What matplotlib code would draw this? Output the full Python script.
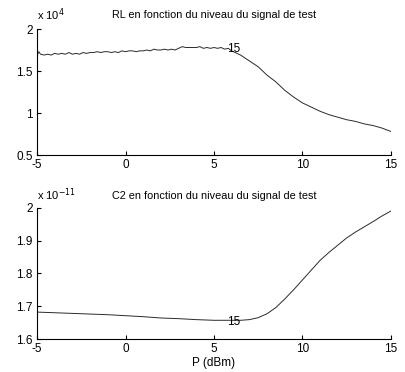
import numpy as np
from matplotlib import pyplot as plt

# RL (x 1e4) vs P (dBm)
rl_x = [-5.0, -4.9, -4.8, -4.6, -4.4, -4.2, -4.0, -3.8, -3.6, -3.4, -3.2, -3.0,
        -2.8, -2.6, -2.4, -2.2, -2.0, -1.8, -1.6, -1.4, -1.2, -1.0, -0.8, -0.6,
        -0.4, -0.2, 0.0, 0.2, 0.4, 0.6, 0.8, 1.0, 1.2, 1.4, 1.6, 1.8, 2.0, 2.2,
        2.4, 2.6, 2.8, 3.0, 3.2, 3.4, 3.6, 3.8, 4.0, 4.2, 4.4, 4.6, 4.8, 5.0,
        5.2, 5.4, 5.6, 5.8, 6.0, 6.5, 7.0, 7.5, 8.0, 8.5, 9.0, 9.5, 10.0, 10.5,
        11.0, 11.5, 12.0, 12.5, 13.0, 13.5, 14.0, 14.5, 15.0]
rl_y = [1.68, 1.73, 1.70, 1.69, 1.70, 1.69, 1.71, 1.70, 1.71, 1.70, 1.72, 1.70,
        1.71, 1.70, 1.72, 1.71, 1.72, 1.72, 1.73, 1.72, 1.73, 1.73, 1.72, 1.73,
        1.72, 1.74, 1.73, 1.74, 1.74, 1.73, 1.74, 1.74, 1.75, 1.74, 1.76, 1.75,
        1.75, 1.76, 1.75, 1.76, 1.75, 1.77, 1.79, 1.78, 1.78, 1.78, 1.78, 1.79,
        1.77, 1.78, 1.77, 1.78, 1.77, 1.78, 1.76, 1.77, 1.74, 1.69, 1.62, 1.55,
        1.45, 1.37, 1.27, 1.19, 1.12, 1.07, 1.02, 0.98, 0.95, 0.92, 0.90, 0.87,
        0.85, 0.82, 0.78]

# C2 (x 1e-11) vs P (dBm)
c2_x = [-5, -4, -3, -2, -1, 0, 1, 1.5, 2, 3, 4, 5, 6, 6.5, 7, 7.5, 8, 8.5, 9,
        9.5, 10, 10.5, 11, 11.5, 12, 12.5, 13, 13.5, 14, 14.5, 15]
c2_y = [1.682, 1.680, 1.678, 1.676, 1.674, 1.671, 1.668, 1.666, 1.664, 1.662,
        1.659, 1.657, 1.657, 1.657, 1.659, 1.665, 1.677, 1.696, 1.722, 1.750,
        1.780, 1.810, 1.840, 1.864, 1.886, 1.908, 1.926, 1.942, 1.958, 1.975,
        1.990]

xticks = [-5, 0, 5, 10, 15]
rl_ticks = [0.5, 1, 1.5, 2]
c2_ticks = [1.6, 1.7, 1.8, 1.9, 2]

plt.rcParams['font.family'] = ['Liberation Sans', 'DejaVu Sans']
plt.rcParams['font.size'] = 8.5

fig = plt.figure(figsize=(4.05, 3.72), dpi=100)
ax1 = fig.add_axes([0.0914, 0.5833, 0.874, 0.3387])
ax2 = fig.add_axes([0.0914, 0.0887, 0.874, 0.353])

line_color = '#2a2a2a'


def style(ax):
    for s in ('top', 'right'):
        ax.spines[s].set_visible(False)
    for s in ('left', 'bottom'):
        ax.spines[s].set_linewidth(0.8)
    ax.tick_params(direction='in', length=3, width=0.8, pad=3, labelsize=8.5)
    ax.set_xlim(-5, 15)
    ax.set_xticks(xticks)
    ax.set_xticklabels([str(t) for t in xticks])


ax1.plot(rl_x, rl_y, color=line_color, lw=0.7)
ax1.set_ylim(0.5, 2)
ax1.set_yticks(rl_ticks)
ax1.set_yticklabels(['0.5', '1', '1.5', '2'])
style(ax1)
ax1.set_title('RL en fonction du niveau du signal de test', fontsize=7.8, pad=8)
ax1.text(0, 1.045, r'x 10$^{4}$', transform=ax1.transAxes, fontsize=8,
         ha='left', va='bottom')
ax1.text(5.75, 1.765, '15', fontsize=8.5, ha='left', va='center')

ax2.plot(c2_x, c2_y, color=line_color, lw=0.7)
ax2.set_ylim(1.6, 2)
ax2.set_yticks(c2_ticks)
ax2.set_yticklabels(['1.6', '1.7', '1.8', '1.9', '2'])
style(ax2)
ax2.set_title('C2 en fonction du niveau du signal de test', fontsize=7.8, pad=6)
ax2.text(0, 1.035, r'x 10$^{-11}$', transform=ax2.transAxes, fontsize=8,
         ha='left', va='bottom')
ax2.text(5.75, 1.653, '15', fontsize=8.5, ha='left', va='center')
ax2.set_xlabel('P (dBm)', fontsize=8.5, labelpad=1)

fig.savefig('out.png', dpi=100)
